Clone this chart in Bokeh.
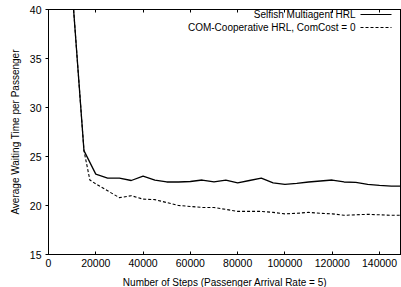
from bokeh.plotting import figure
from bokeh.models import (Range1d, FixedTicker, Label, Arrow, ColumnDataSource,
                          NumeralTickFormatter, LinearAxis)
from bokeh.embed import file_html
from bokeh.resources import INLINE

# ---- data ----
steps_selfish = [10000, 15000, 20000, 25000, 30000, 35000, 40000, 45000, 50000, 55000,
                 60000, 65000, 70000, 75000, 80000, 85000, 90000, 95000, 100000, 105000,
                 110000, 115000, 120000, 125000, 130000, 135000, 140000, 145000, 150000]
wait_selfish = [42.0, 25.6, 23.2, 22.8, 22.8, 22.55, 23.0, 22.6, 22.4, 22.4,
                22.45, 22.6, 22.4, 22.6, 22.3, 22.55, 22.8, 22.3, 22.15, 22.25,
                22.4, 22.5, 22.6, 22.4, 22.35, 22.15, 22.05, 21.97, 21.97]

steps_coop = [10000, 15000, 17500, 20000, 25000, 30000, 35000, 40000, 45000, 50000, 55000,
              60000, 65000, 70000, 75000, 80000, 85000, 90000, 95000, 100000, 105000,
              110000, 115000, 120000, 125000, 130000, 135000, 140000, 145000, 150000]
wait_coop = [42.0, 25.6, 22.6, 22.2, 21.5, 20.8, 21.0, 20.65, 20.6, 20.3, 20.0,
             19.9, 19.8, 19.8, 19.6, 19.4, 19.4, 19.4, 19.3, 19.15, 19.2,
             19.3, 19.2, 19.15, 19.0, 19.05, 19.1, 19.05, 19.0, 19.0]

x_ticks = [0, 20000, 40000, 60000, 80000, 100000, 120000, 140000]
y_ticks = [15, 20, 25, 30, 35, 40]

label_selfish = "Selfish Multiagent HRL"
label_coop = "COM-Cooperative HRL, ComCost = 0"
x_title = "Number of Steps (Passenger Arrival Rate = 5)"
y_title = "Average Waiting Time per Passenger"

FONT = "Liberation Sans"

p = figure(width=401, height=287, output_backend="svg", toolbar_location=None,
           x_range=Range1d(0, 149300), y_range=Range1d(15, 40),
           min_border_left=48, min_border_right=0, min_border_top=9, min_border_bottom=33)
p.frame_width = 353
p.frame_height = 245

p.background_fill_color = "white"
p.border_fill_color = "white"
p.outline_line_color = "black"
p.outline_line_width = 1
p.xgrid.visible = False
p.ygrid.visible = False

for ax, ticks, title in ((p.xaxis[0], x_ticks, x_title), (p.yaxis[0], y_ticks, y_title)):
    ax.ticker = FixedTicker(ticks=ticks)
    ax.formatter = NumeralTickFormatter(format="0")
    ax.minor_tick_line_color = None
    ax.axis_label = title
    ax.axis_label_text_font = FONT
    ax.axis_label_text_font_size = "10px"
    ax.axis_label_text_font_style = "normal"
    ax.axis_label_text_color = "black"
    ax.major_label_text_font = FONT
    ax.major_label_text_font_size = "10.5px"
    ax.major_label_text_color = "black"
    ax.axis_line_color = "black"
    ax.major_tick_line_color = "black"

p.xaxis.major_tick_in = 3
p.xaxis.major_tick_out = 0
p.xaxis.major_label_standoff = 4
p.xaxis.axis_label_standoff = 7
p.yaxis.major_tick_in = 0
p.yaxis.major_tick_out = 3
p.yaxis.major_label_standoff = 4
p.yaxis.axis_label_standoff = 6

# mirrored ticks along the top border (gnuplot style, pointing inward), no labels
top_axis = LinearAxis(ticker=FixedTicker(ticks=x_ticks), major_label_text_font_size="2px",
                      major_label_text_color=None, major_label_standoff=0,
                      major_tick_in=3, major_tick_out=0,
                      minor_tick_line_color=None, axis_line_color="black",
                      major_tick_line_color="black")
p.add_layout(top_axis, "above")

src_s = ColumnDataSource(dict(x=steps_selfish, y=wait_selfish))
src_c = ColumnDataSource(dict(x=steps_coop, y=wait_coop))
p.line("x", "y", source=src_s, line_color="black", line_width=1.3)
p.line("x", "y", source=src_c, line_color="black", line_width=1.1, line_dash="3 2")

# gnuplot-style key: text right-aligned, sample to its right
for i, (txt, dash) in enumerate(((label_selfish, "solid"), (label_coop, "3 2"))):
    yy = 14 + 13 * i
    p.add_layout(Label(x=355, y=yy, x_units="canvas", y_units="canvas", text=txt,
                       text_align="right", text_baseline="middle",
                       text_font=FONT, text_font_size="10px", text_color="black"))
    p.add_layout(Arrow(x_start=360, y_start=yy, x_end=391, y_end=yy,
                       start_units="canvas", end_units="canvas", end=None, start=None,
                       line_color="black", line_width=1, line_dash=dash))

open("out.html", "w").write(file_html(p, INLINE))
